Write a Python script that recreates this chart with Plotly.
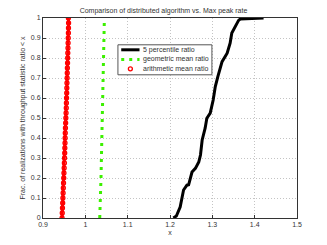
import plotly.graph_objects as go

# 5 percentile ratio (black)
p5_x = [1.208, 1.215, 1.224, 1.232, 1.240, 1.244, 1.252, 1.260, 1.268, 1.272, 1.276,
        1.283, 1.287, 1.295, 1.302, 1.307, 1.313, 1.323, 1.335, 1.342, 1.346, 1.354,
        1.362, 1.366, 1.421]
p5_y = [0.0, 0.01, 0.055, 0.14, 0.164, 0.166, 0.23, 0.248, 0.28, 0.315, 0.39,
        0.449, 0.499, 0.524, 0.59, 0.657, 0.707, 0.782, 0.824, 0.874, 0.925, 0.958,
        0.988, 0.995, 1.0]

# geometric mean ratio (green)
geo_x = [1.034, 1.036, 1.037, 1.038, 1.039, 1.040, 1.041, 1.042, 1.043, 1.044, 1.045]
geo_y = [0.0, 0.1, 0.2, 0.3, 0.4, 0.5, 0.6, 0.7, 0.8, 0.9, 1.0]

# arithmetic mean ratio (red)
ari_x = [0.945, 0.9455, 0.946, 0.9465, 0.947, 0.9475, 0.948, 0.9485, 0.949, 0.9495,
         0.950, 0.9505, 0.951, 0.9513, 0.9516, 0.952, 0.9523, 0.9526, 0.953, 0.9535,
         0.954, 0.9545, 0.955, 0.9553, 0.9556, 0.956, 0.9563, 0.9566, 0.957, 0.9573,
         0.9576, 0.958, 0.9583, 0.9586, 0.959, 0.9593, 0.9596, 0.960, 0.9602, 0.9604, 0.960]
ari_y = [i / 40 for i in range(41)]

series_names = ["5 percentile ratio", "geometric mean ratio", "arithmetic mean ratio"]

x_ticks = [0.9, 1.0, 1.1, 1.2, 1.3, 1.4, 1.5]
x_labels = ["0.9", "1", "1.1", "1.2", "1.3", "1.4", "1.5"]
y_ticks = [0, 0.1, 0.2, 0.3, 0.4, 0.5, 0.6, 0.7, 0.8, 0.9, 1.0]
y_labels = ["0", "0.1", "0.2", "0.3", "0.4", "0.5", "0.6", "0.7", "0.8", "0.9", "1"]

FONT = "Liberation Sans, Arial, sans-serif"
BLACK = "black"
GREEN = "#3cf000"
RED = "#ff0000"
GREEN_DASH = "3px,5px"

fig = go.Figure()
fig.add_trace(go.Scatter(x=p5_x, y=p5_y, mode="lines", name=series_names[0],
                         line=dict(color=BLACK, width=3), showlegend=False))
fig.add_trace(go.Scatter(x=geo_x, y=geo_y, mode="lines", name=series_names[1],
                         line=dict(color=GREEN, width=3, dash=GREEN_DASH), showlegend=False))
fig.add_trace(go.Scatter(x=ari_x, y=ari_y, mode="lines", name=series_names[2],
                         line=dict(color=RED, width=3), showlegend=False, hoverinfo="skip"))
fig.add_trace(go.Scatter(x=ari_x, y=ari_y, mode="markers", name=series_names[2],
                         marker=dict(symbol="circle-open", color=RED, size=4,
                                     line=dict(width=1.3, color=RED)), showlegend=False))

axis_common = dict(showline=True, linecolor="#333", linewidth=1, mirror=True,
                   ticks="inside", ticklen=3, tickcolor="#333", automargin=False,
                   showgrid=True, gridcolor="#c4c4c4", griddash="1px,2px", gridwidth=1,
                   zeroline=False, tickfont=dict(size=7, color="#333", family=FONT))

# manual legend (paper coordinates)
lg_left, lg_right, lg_top, lg_bottom = 0.295, 0.665, 0.866, 0.716
row_y = [0.841, 0.793, 0.746]
sample_x0, sample_x1, text_x = 0.308, 0.380, 0.385

shapes = [dict(type="rect", xref="paper", yref="paper", x0=lg_left, x1=lg_right,
               y0=lg_bottom, y1=lg_top, line=dict(color="#555", width=1),
               fillcolor="white", layer="above")]
shapes.append(dict(type="line", xref="paper", yref="paper", x0=sample_x0, x1=sample_x1,
                   y0=row_y[0], y1=row_y[0], line=dict(color=BLACK, width=3), layer="above"))
shapes.append(dict(type="line", xref="paper", yref="paper", x0=sample_x0, x1=sample_x1,
                   y0=row_y[1], y1=row_y[1], line=dict(color=GREEN, width=3, dash=GREEN_DASH),
                   layer="above"))
cx = (sample_x0 + sample_x1) / 2
shapes.append(dict(type="circle", xref="paper", yref="paper", xsizemode="pixel",
                   ysizemode="pixel", xanchor=cx, yanchor=row_y[2], x0=-2, x1=2, y0=-2, y1=2,
                   line=dict(color=RED, width=1.3), layer="above"))

annotations = [dict(text=name, xref="paper", yref="paper", x=text_x, y=yy,
                    xanchor="left", yanchor="middle", showarrow=False,
                    font=dict(size=7, color="#333", family=FONT))
               for name, yy in zip(series_names, row_y)]

fig.update_layout(
    width=327, height=245,
    margin=dict(l=43, r=30, t=18, b=27),
    paper_bgcolor="white", plot_bgcolor="white",
    font=dict(family=FONT, size=7, color="#333"),
    title=dict(text="Comparison of distributed algorithm vs. Max peak rate",
               x=0.5, xanchor="center", y=0.957, yanchor="middle",
               font=dict(size=7, color="#333", family=FONT)),
    xaxis=dict(range=[0.9, 1.5], tickvals=x_ticks, ticktext=x_labels,
               title=dict(text="x", font=dict(size=7), standoff=2), **axis_common),
    yaxis=dict(range=[0, 1], tickvals=y_ticks, ticktext=y_labels,
               title=dict(text="Frac. of realizations with throughput statistic ratio < x",
                          font=dict(size=7), standoff=4), **axis_common),
    shapes=shapes,
    annotations=annotations,
    showlegend=False,
)

fig.write_html("out.html", config={"displayModeBar": False, "staticPlot": True},
               post_script="document.body.style.margin='0px';")
